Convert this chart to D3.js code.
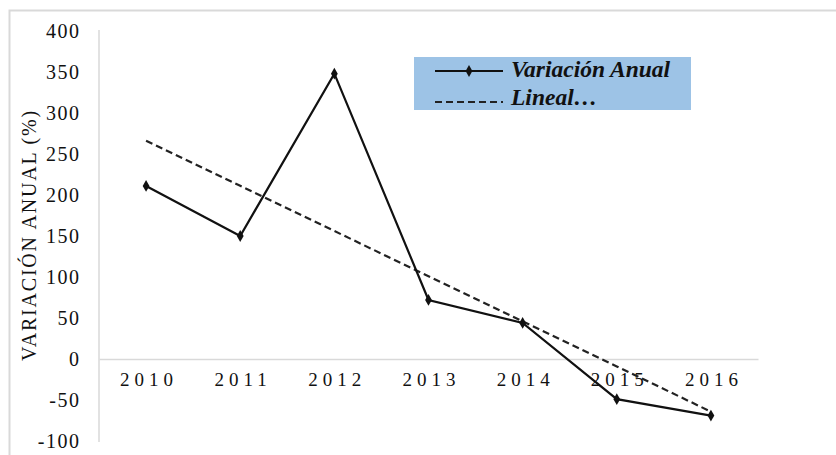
<!DOCTYPE html>
<html>
<head>
<meta charset="utf-8">
<script src="https://cdn.jsdelivr.net/npm/d3@7"></script>
<style>
  body { margin: 0; background: #fff; }
  svg { display: block; }
  svg text { font-family: "Liberation Serif", "Times New Roman", serif; }
</style>
</head>
<body>
<div id="chart"></div>
<script>
        var w = 836
        var h = 455
        var serif = "'Liberation Serif', 'Times New Roman', serif"

        // data
        var years = ["2010", "2011", "2012", "2013", "2014", "2015", "2016"]
        var variacion = [211, 150, 348, 72, 44, -49, -69]
        var yTicks = [-100, -50, 0, 50, 100, 150, 200, 250, 300, 350, 400]

        var svg = d3.select("#chart").append("svg").attr("width", w).attr("height", h)

        // outer chart border
        svg.append("rect")
            .attr("x", 9.5).attr("y", 10.5)
            .attr("width", 900).attr("height", 500)
            .attr("fill", "#fff")
            .attr("stroke", "#d9d9d9")
            .attr("stroke-width", 2)

        var x = d3.scaleBand().domain(years).range([99, 758])
        var y = d3.scaleLinear().domain([-100, 400]).range([441, 31])

        // y axis
        var yAxis = svg.append("g")
            .attr("transform", "translate(99,0)")
            .call(d3.axisLeft(y).tickValues(yTicks).tickSize(0).tickPadding(20)
                .tickFormat(function(d) { return String(d) }))
        yAxis.select(".domain").attr("stroke", "#d9d9d9").attr("stroke-width", 1.5)
            .attr("d", "M0," + (y(400) - 1) + "V" + (y(-100) + 1))
        yAxis.selectAll("text")
            .style("font-family", serif)
            .style("font-size", "20px")
            .style("letter-spacing", "1.5px")
            .attr("fill", "#111")
            .attr("dx", "1.5px")

        // x axis at zero
        var xAxis = svg.append("g")
            .attr("transform", "translate(0," + y(0) + ")")
            .call(d3.axisBottom(x).tickSize(0).tickPadding(14))
        xAxis.select(".domain").attr("stroke", "#d9d9d9").attr("stroke-width", 1.5)
        xAxis.selectAll("text")
            .style("font-family", serif)
            .style("font-size", "19px")
            .style("letter-spacing", "5px")
            .attr("fill", "#111")
            .attr("dx", "3px")

        // y label
        svg.append("text")
            .text("VARIACIÓN ANUAL (%)")
            .attr("transform", "translate(36,235) rotate(-90)")
            .attr("text-anchor", "middle")
            .style("font-family", serif)
            .style("font-size", "20px")
            .style("letter-spacing", "1.8px")
            .attr("fill", "#111")

        // linear trend (least squares over the series)
        var n = variacion.length
        var mx = d3.mean(d3.range(n)), my = d3.mean(variacion)
        var slope = d3.sum(variacion, function(v, i) { return (i - mx) * (v - my) }) /
                    d3.sum(d3.range(n), function(i) { return (i - mx) * (i - mx) })
        var trend = variacion.map(function(v, i) { return my + slope * (i - mx) })

        var cx = function(d, i) { return x(years[i]) + x.bandwidth() / 2 }

        svg.append("path")
            .datum(trend)
            .attr("fill", "none")
            .attr("stroke", "#222")
            .attr("stroke-width", 2.2)
            .attr("stroke-dasharray", "7,4")
            .attr("d", d3.line().x(cx).y(function(d) { return y(d) }))

        svg.append("path")
            .datum(variacion)
            .attr("fill", "none")
            .attr("stroke", "#111")
            .attr("stroke-width", 2.2)
            .attr("d", d3.line().x(cx).y(function(d) { return y(d) }))

        svg.selectAll("path.pt")
            .data(variacion)
            .enter()
            .append("path")
            .attr("class", "pt")
            .attr("d", d3.symbol().type(d3.symbolDiamond).size(40))
            .attr("transform", function(d, i) { return "translate(" + cx(d, i) + "," + y(d) + ")" })
            .attr("fill", "#111")

        // legend
        var lg = svg.append("g").attr("transform", "translate(414,57)")
        lg.append("rect").attr("width", 277).attr("height", 53).attr("fill", "#9dc3e6")
        lg.append("line").attr("x1", 21).attr("x2", 89).attr("y1", 14).attr("y2", 14)
            .attr("stroke", "#111").attr("stroke-width", 2.2)
        lg.append("path").attr("d", d3.symbol().type(d3.symbolDiamond).size(40))
            .attr("transform", "translate(55,14)").attr("fill", "#111")
        lg.append("line").attr("x1", 21).attr("x2", 89).attr("y1", 45).attr("y2", 45)
            .attr("stroke", "#222").attr("stroke-width", 2.2).attr("stroke-dasharray", "7,4")
        var legendText = ["Variación Anual", "Lineal…"]
        lg.selectAll("text.lt")
            .data(legendText)
            .enter()
            .append("text")
            .attr("class", "lt")
            .text(function(d) { return d })
            .attr("x", 97)
            .attr("y", function(d, i) { return 20 + i * 28 })
            .style("font-family", serif)
            .style("font-size", "23.5px")
            .style("font-weight", "bold")
            .style("font-style", "italic")
            .attr("fill", "#111")
</script>
</body>
</html>
